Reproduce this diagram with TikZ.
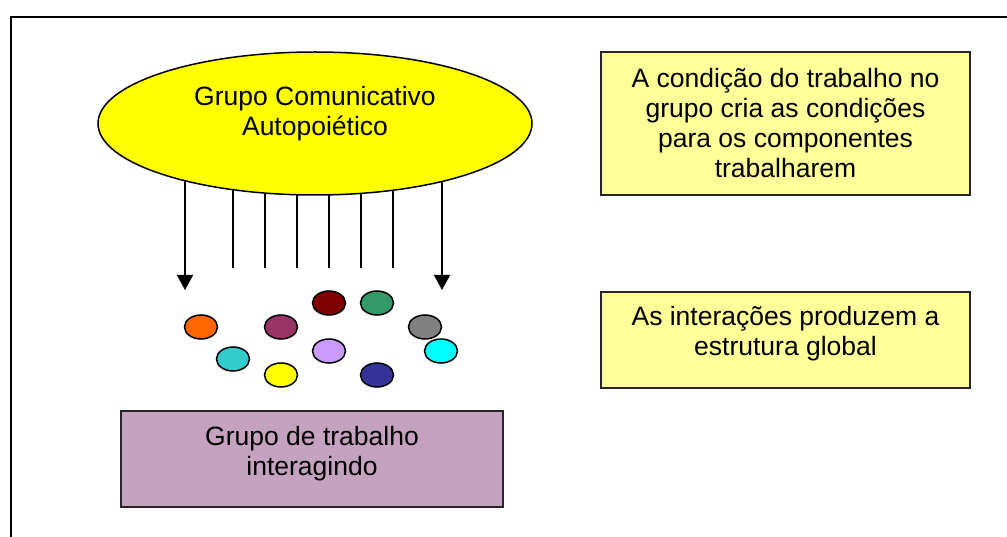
\documentclass[tikz,border=0pt]{standalone}
\usepackage{fontspec}
\setmainfont{Liberation Sans}
\usetikzlibrary{shapes.geometric,arrows.meta,backgrounds}

\definecolor{amarelo}{RGB}{255,255,0}
\definecolor{notafill}{RGB}{255,255,153}
\definecolor{lilas}{RGB}{196,162,192}
\definecolor{c1}{RGB}{255,102,0}
\definecolor{c2}{RGB}{51,204,204}
\definecolor{c3}{RGB}{255,255,0}
\definecolor{c4}{RGB}{153,51,102}
\definecolor{c5}{RGB}{128,0,0}
\definecolor{c6}{RGB}{204,153,255}
\definecolor{c7}{RGB}{51,153,102}
\definecolor{c8}{RGB}{51,51,153}
\definecolor{c9}{RGB}{128,128,128}
\definecolor{c10}{RGB}{0,255,255}

\begin{document}
\begin{tikzpicture}[
    x=1pt, y=-1pt,
    txt/.style={align=center, font=\fontsize{26.5}{30}\selectfont},
    grupo/.style={ellipse, draw, line width=1.5pt, fill=amarelo, minimum width=434pt, minimum height=143pt, txt},
    nota/.style={rectangle, draw=black!85, line width=1.5pt, fill=notafill, minimum width=369pt, txt},
    trab/.style={rectangle, draw=black!85, line width=1.5pt, fill=lilas, minimum width=382pt, minimum height=96pt, txt},
    bola/.style={ellipse, draw, line width=1.5pt, minimum width=33pt, minimum height=24pt, inner sep=0pt},
    edge/.style={draw, line width=1.3pt},
    seta/.style={edge, -{Triangle[length=15pt,width=16pt]}}
]
\useasboundingbox (0,0) rectangle (1007,537);

% Moldura
\draw[line width=2pt] (1012,17) -- (11,17) -- (11,542);

% Grupo comunicativo
\node[grupo, text depth=26pt] (grp) at (315,123.5) {Grupo Comunicativo\\Autopoiético};

% Notas
\node[nota, minimum height=143pt] (nota1) at (785.5,123.5)
    {A condição do trabalho no\\grupo cria as condições\\para os componentes\\trabalharem};
\node[nota, minimum height=96pt, text depth=19pt] (nota2) at (785.5,340)
    {As interações produzem a\\estrutura global};

% Grupo de trabalho
\node[trab, text depth=16pt] (gt) at (312,459) {Grupo de trabalho\\interagindo};

% Componentes
\node[bola, fill=c1] (b1) at (201,327) {};
\node[bola, fill=c2] (b2) at (233,359) {};
\node[bola, fill=c3] (b3) at (281,375) {};
\node[bola, fill=c4] (b4) at (281,327) {};
\node[bola, fill=c5] (b5) at (329,303) {};
\node[bola, fill=c6] (b6) at (329,351) {};
\node[bola, fill=c7] (b7) at (377,303) {};
\node[bola, fill=c8] (b8) at (377,375) {};
\node[bola, fill=c9] (b9) at (425,327) {};
\node[bola, fill=c10] (b10) at (441,351) {};

% Linhas de influencia
\coordinate (s1) at (185,290);
\coordinate (l1) at (233,268);
\coordinate (l2) at (265,268);
\coordinate (l3) at (297,268);
\coordinate (l4) at (329,268);
\coordinate (l5) at (361,268);
\coordinate (l6) at (393,268);
\coordinate (s2) at (442,290);

\begin{scope}[on background layer]
\draw[seta] (grp.center -| s1) -- (s1);
\draw[edge] (grp.center -| l1) -- (l1);
\draw[edge] (grp.center -| l2) -- (l2);
\draw[edge] (grp.center -| l3) -- (l3);
\draw[edge] (grp.center -| l4) -- (l4);
\draw[edge] (grp.center -| l5) -- (l5);
\draw[edge] (grp.center -| l6) -- (l6);
\draw[seta] (grp.center -| s2) -- (s2);
\end{scope}
\end{tikzpicture}
\end{document}
